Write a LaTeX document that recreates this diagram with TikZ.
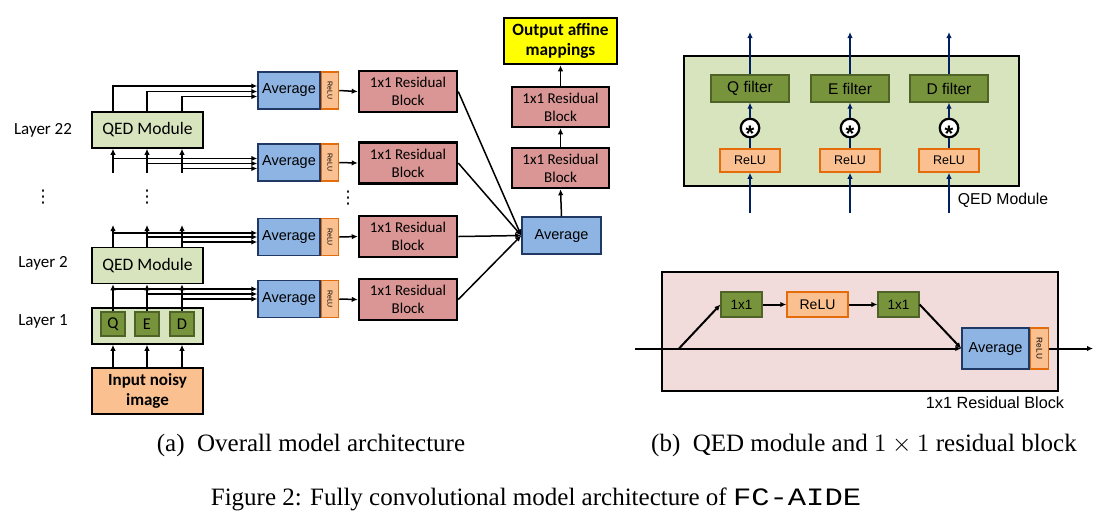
\documentclass[tikz,border=0pt]{standalone}
\usepackage{fontspec}
\setmainfont{Liberation Serif}
\setmonofont[FakeStretch=1.22]{Liberation Mono}
\newfontfamily\calib{Carlito}
\newfontfamily\arial{Liberation Sans}
\newfontfamily\dejavu{DejaVu Sans}
\usetikzlibrary{calc,arrows.meta}

\definecolor{qedgreen}{RGB}{215,228,189}
\definecolor{filtgreen}{RGB}{119,147,60}
\definecolor{filtdark}{RGB}{79,98,40}
\definecolor{avgblue}{RGB}{142,180,227}
\definecolor{avgdark}{RGB}{31,56,100}
\definecolor{reluorange}{RGB}{250,192,144}
\definecolor{reludark}{RGB}{228,108,10}
\definecolor{resred}{RGB}{217,150,148}
\definecolor{outyellow}{RGB}{255,255,0}
\definecolor{pinkbg}{RGB}{242,220,219}
\definecolor{navyline}{RGB}{0,32,96}

\tikzset{
  layerlab/.style={inner sep=0pt, font=\calib\fontsize{6.8pt}{8pt}\selectfont},
  dotlab/.style={inner sep=0pt, font=\dejavu\fontsize{7pt}{8pt}\selectfont},
  qedbox/.style={draw=black, line width=0.6pt, fill=qedgreen, minimum width=44.4pt, minimum height=14.4pt, inner sep=0pt, align=center, font=\calib\fontsize{7pt}{8pt}\selectfont},
  filtbox/.style={draw=filtdark, line width=0.5pt, fill=filtgreen, inner sep=0pt},
  avgbox/.style={draw=avgdark, line width=0.6pt, fill=avgblue, minimum width=24.8pt, minimum height=14.8pt, inner sep=0pt, font=\arial\fontsize{5.8pt}{7pt}\selectfont},
  relutag/.style={draw=reludark, line width=0.6pt, fill=reluorange, minimum width=6.8pt, minimum height=14.8pt, inner sep=0pt, font=\arial\fontsize{2.8pt}{3pt}\selectfont},
  resbox/.style={draw=black, line width=1pt, fill=resred, minimum width=39.2pt, minimum height=16.4pt, inner sep=0pt, align=center, font=\calib\fontsize{6pt}{7.2pt}\selectfont},
  convdot/.style={circle, draw=black, line width=0.9pt, fill=white, minimum size=7.4pt, inner sep=0pt, font=\arial\bfseries\fontsize{9pt}{9pt}\selectfont},
  conn/.style={line width=0.6pt, ->},
  navyconn/.style={line width=0.8pt, draw=navyline},
  blockconn/.style={line width=0.8pt, ->}
}

\begin{document}
\begin{tikzpicture}[x=0.4pt, y=-0.4pt, >={Latex[length=2.4pt,width=2.2pt]}]
			\useasboundingbox (0,0) rectangle (1110,523);
			
			%%%%% (a) OVERALL MODEL %%%%%
			
			\coordinate (c1) at (113,0);
			\coordinate (c2) at (147,0);
			\coordinate (c3) at (182,0);
			
			\node[layerlab] (lab22) at (43,130) {Layer 22};
			\node[layerlab] (lab2) at (43,263) {Layer 2};
			\node[layerlab] (lab1) at (43,321) {Layer 1};
			
			\node[qedbox] (qed22) at (147.5,130) {QED Module};
			\node[qedbox] (qed2) at (147.5,265.5) {QED Module};
			\node[qedbox] (lay1) at (147.5,326) {};
			\node[filtbox, minimum size=9.6pt, font=\calib\fontsize{6.6pt}{8pt}\selectfont] (fq) at (113,324) {Q};
			\node[filtbox, minimum size=9.6pt, font=\calib\fontsize{6.6pt}{8pt}\selectfont] (fe) at (147,324) {E};
			\node[filtbox, minimum size=9.6pt, font=\calib\fontsize{6.6pt}{8pt}\selectfont] (fd) at (182,324) {D};
			\node[qedbox, fill=reluorange, minimum height=18.4pt, font=\calib\bfseries\fontsize{6.8pt}{8pt}\selectfont] (inp) at (147.5,391) {Input noisy\\image};
			
			\node[dotlab] (dots1) at (43,197) {⋮};
			\node[dotlab] (dots2) at (147,197) {⋮};
			\node[dotlab] (dots3) at (348,198) {⋮};
			
			\node[avgbox] (avg1) at (289,90.5) {Average};
			\node[relutag, anchor=west] (relu1) at (avg1.east) {\rotatebox{-90}{ReLU}};
			\node[avgbox] (avg2) at (289,162.5) {Average};
			\node[relutag, anchor=west] (relu2) at (avg2.east) {\rotatebox{-90}{ReLU}};
			\node[avgbox] (avg3) at (289,237) {Average};
			\node[relutag, anchor=west] (relu3) at (avg3.east) {\rotatebox{-90}{ReLU}};
			\node[avgbox] (avg4) at (289,299) {Average};
			\node[relutag, anchor=west] (relu4) at (avg4.east) {\rotatebox{-90}{ReLU}};
			
			\node[resbox] (res1) at (408,91.5) {1x1 Residual\\Block};
			\node[resbox] (res2) at (408,163) {1x1 Residual\\Block};
			\node[resbox] (res3) at (408,236.5) {1x1 Residual\\Block};
			\node[resbox] (res4) at (408,299.5) {1x1 Residual\\Block};
			
			\node[avgbox, minimum width=31.6pt] (avgc) at (561.5,235.5) {Average};
			\node[resbox, minimum width=38.8pt, minimum height=16pt] (up1) at (560.5,168) {1x1 Residual\\Block};
			\node[resbox, minimum width=38.8pt, minimum height=16pt] (up2) at (560.5,107) {1x1 Residual\\Block};
			\node[resbox, fill=outyellow, minimum width=45.2pt, minimum height=18.4pt, font=\calib\bfseries\fontsize{6.9pt}{8pt}\selectfont] (outp) at (560.5,41) {Output affine\\mappings};
			
			% input -> layer 1 -> layer 2
			\draw[conn] (inp.north -| c1) -- (lay1.south -| c1);
			\draw[conn] (inp.north -| c2) -- (lay1.south -| c2);
			\draw[conn] (inp.north -| c3) -- (lay1.south -| c3);
			\draw[conn] (fq.north) -- (qed2.south -| fq);
			\draw[conn] (fe.north) -- (qed2.south -| fe);
			\draw[conn] (fd.north) -- (qed2.south -| fd);
			
			% layer 1 -> average
			\coordinate (a4a) at ($(avg4.west)+(0,-10)$);
			\coordinate (a4b) at ($(avg4.west)+(0,-5)$);
			\coordinate (a4c) at (avg4.west);
			\draw[conn] (c1 |- a4a) -- (a4a);
			\draw[conn] (c2 |- a4b) -- (a4b);
			\draw[conn] (c3 |- a4c) -- (a4c);
			
			% layer 2 -> up
			\coordinate (up2a) at (113,225);
			\coordinate (up2b) at (147,225);
			\coordinate (up2c) at (182,225);
			\draw[conn] (qed2.north -| up2a) -- (up2a);
			\draw[conn] (qed2.north -| up2b) -- (up2b);
			\draw[conn] (qed2.north -| up2c) -- (up2c);
			\coordinate (a3a) at ($(avg3.west)+(0,-4)$);
			\coordinate (a3b) at (avg3.west);
			\coordinate (a3c) at ($(avg3.west)+(0,5)$);
			\draw[conn] (c1 |- a3a) -- (a3a);
			\draw[conn] (c2 |- a3b) -- (a3b);
			\draw[conn] (c3 |- a3c) -- (a3c);
			
			% into layer 22
			\coordinate (in22a) at (113,173);
			\coordinate (in22b) at (147,173);
			\coordinate (in22c) at (182,173);
			\draw[conn] (in22a) -- (qed22.south -| in22a);
			\draw[conn] (in22b) -- (qed22.south -| in22b);
			\draw[conn] (in22c) -- (qed22.south -| in22c);
			\coordinate (a2a) at ($(avg2.west)+(0,-4)$);
			\coordinate (a2b) at ($(avg2.west)+(0,1)$);
			\coordinate (a2c) at ($(avg2.west)+(0,6)$);
			\draw[conn] (c1 |- a2a) -- (a2a);
			\draw[conn] (c2 |- a2b) -- (a2b);
			\draw[conn] (c3 |- a2c) -- (a2c);
			
			% out of layer 22
			\coordinate (a1a) at ($(avg1.west)+(0,-4.5)$);
			\coordinate (a1b) at ($(avg1.west)+(0,1)$);
			\coordinate (a1c) at ($(avg1.west)+(0,6)$);
			\draw[conn] (qed22.north -| c1) |- (a1a);
			\draw[conn] (qed22.north -| c2) |- (a1b);
			\draw[conn] (qed22.north -| c3) |- (a1c);
			
			% averages -> residual blocks -> average
			\draw[conn] (relu1.east) -- (res1.west);
			\draw[conn] (relu2.east) -- (res2.west);
			\draw[conn] (relu3.east) -- (res3.west);
			\draw[conn] (relu4.east) -- (res4.west);
			\draw[conn] (res1.east) -- (avgc.west);
			\draw[conn] (res2.east) -- (avgc.west);
			\draw[conn] (res3.east) -- (avgc.west);
			\draw[conn] (res4.east) -- (avgc.west);
			\draw[conn] (avgc.north) -- (up1.south);
			\draw[conn] (up1.north) -- (up2.south);
			\draw[conn] (up2.north) -- (outp.south);
			
			%%%%% (b) QED MODULE %%%%%
			
			\node[qedbox, line width=1pt, minimum width=134pt, minimum height=52pt] (qedb) at (851.5,121) {};
			\node[filtbox, minimum width=31.2pt, minimum height=10.8pt, font=\arial\fontsize{6.2pt}{7pt}\selectfont] (filtq) at (750,88.5) {Q filter};
			\node[filtbox, minimum width=31.2pt, minimum height=10.8pt, font=\arial\fontsize{6.2pt}{7pt}\selectfont] (filte) at (850,88.5) {E filter};
			\node[filtbox, minimum width=31.2pt, minimum height=10.8pt, font=\arial\fontsize{6.2pt}{7pt}\selectfont] (filtd) at (949,88.5) {D filter};
			\node[convdot] (convq) at (750,128) {\raisebox{-5.2pt}[0pt][0pt]{*}};
			\node[convdot] (conve) at (850,128) {\raisebox{-5.2pt}[0pt][0pt]{*}};
			\node[convdot] (convd) at (949,128) {\raisebox{-5.2pt}[0pt][0pt]{*}};
			\node[relutag, minimum width=24pt, minimum height=9.2pt, font=\arial\fontsize{5pt}{6pt}\selectfont] (reluq) at (750,160.5) {ReLU};
			\node[relutag, minimum width=24pt, minimum height=9.2pt, font=\arial\fontsize{5pt}{6pt}\selectfont] (relue) at (850,160.5) {ReLU};
			\node[relutag, minimum width=24pt, minimum height=9.2pt, font=\arial\fontsize{5pt}{6pt}\selectfont] (relud) at (949,160.5) {ReLU};
			\node[layerlab, font=\arial\fontsize{6.3pt}{7pt}\selectfont] (qedlab) at (1003,200) {QED Module};
			
			\coordinate (botq) at (750,213);
			\coordinate (bote) at (850,213);
			\coordinate (botd) at (949,213);
			\coordinate (topq) at (750,32);
			\coordinate (tope) at (850,32);
			\coordinate (topd) at (949,32);
			
			\draw[navyconn, ->] (botq) -- (reluq.south);
			\draw[navyconn] (reluq.north) -- (convq.south);
			\draw[navyconn, ->] (convq.north) -- (filtq.south);
			\draw[navyconn, ->] (filtq.north) -- (topq);
			\draw[navyconn, ->] (bote) -- (relue.south);
			\draw[navyconn] (relue.north) -- (conve.south);
			\draw[navyconn, ->] (conve.north) -- (filte.south);
			\draw[navyconn, ->] (filte.north) -- (tope);
			\draw[navyconn, ->] (botd) -- (relud.south);
			\draw[navyconn] (relud.north) -- (convd.south);
			\draw[navyconn, ->] (convd.north) -- (filtd.south);
			\draw[navyconn, ->] (filtd.north) -- (topd);
			
			%%%%% (b) 1x1 RESIDUAL BLOCK %%%%%
			
			\node[qedbox, fill=pinkbg, line width=1pt, minimum width=158.4pt, minimum height=47.6pt] (resb) at (860,331.5) {};
			\node[filtbox, minimum width=16.4pt, minimum height=10pt, font=\arial\fontsize{5.4pt}{6pt}\selectfont] (k1) at (741.5,304.5) {1x1};
			\node[relutag, minimum width=24.4pt, minimum height=10pt, font=\arial\fontsize{5.6pt}{6pt}\selectfont] (kr) at (817.5,304.5) {ReLU};
			\node[filtbox, minimum width=16.4pt, minimum height=10pt, font=\arial\fontsize{5.4pt}{6pt}\selectfont] (k2) at (898.5,304.5) {1x1};
			\node[avgbox, minimum width=26.8pt, minimum height=16.4pt] (ravg) at (995.5,348.5) {Average};
			\node[relutag, anchor=west, minimum width=7.2pt, minimum height=16.4pt, font=\arial\fontsize{3.3pt}{4pt}\selectfont] (rrelu) at (ravg.east) {\rotatebox{-90}{ReLU}};
			\node[layerlab, font=\arial\fontsize{6.5pt}{7pt}\selectfont] (reslab) at (995,403) {1x1 Residual Block};
			
			\coordinate (rin) at (635,348.5);
			\coordinate (rfork) at (679,348.5);
			\coordinate (rout) at (1093,348.5);
			\draw[blockconn] (rin) -- (ravg.west);
			\draw[blockconn] (rfork) -- (k1.west);
			\draw[blockconn] (k1) -- (kr);
			\draw[blockconn] (kr) -- (k2);
			\draw[blockconn] (k2.east) -- (ravg.west);
			\draw[blockconn] (rrelu.east) -- (rout);
			
			%%%%% CAPTIONS %%%%%
			
			\node (capa) at (311,445) {(a)~~Overall model architecture};
			\node (capb) at (864,445) {(b)~~QED module and $1\times1$ residual block};
			\node (capfig) at (536,499) {Figure 2: Fully convolutional model architecture of \texttt{FC-AIDE}};
			
		\end{tikzpicture}
\end{document}
